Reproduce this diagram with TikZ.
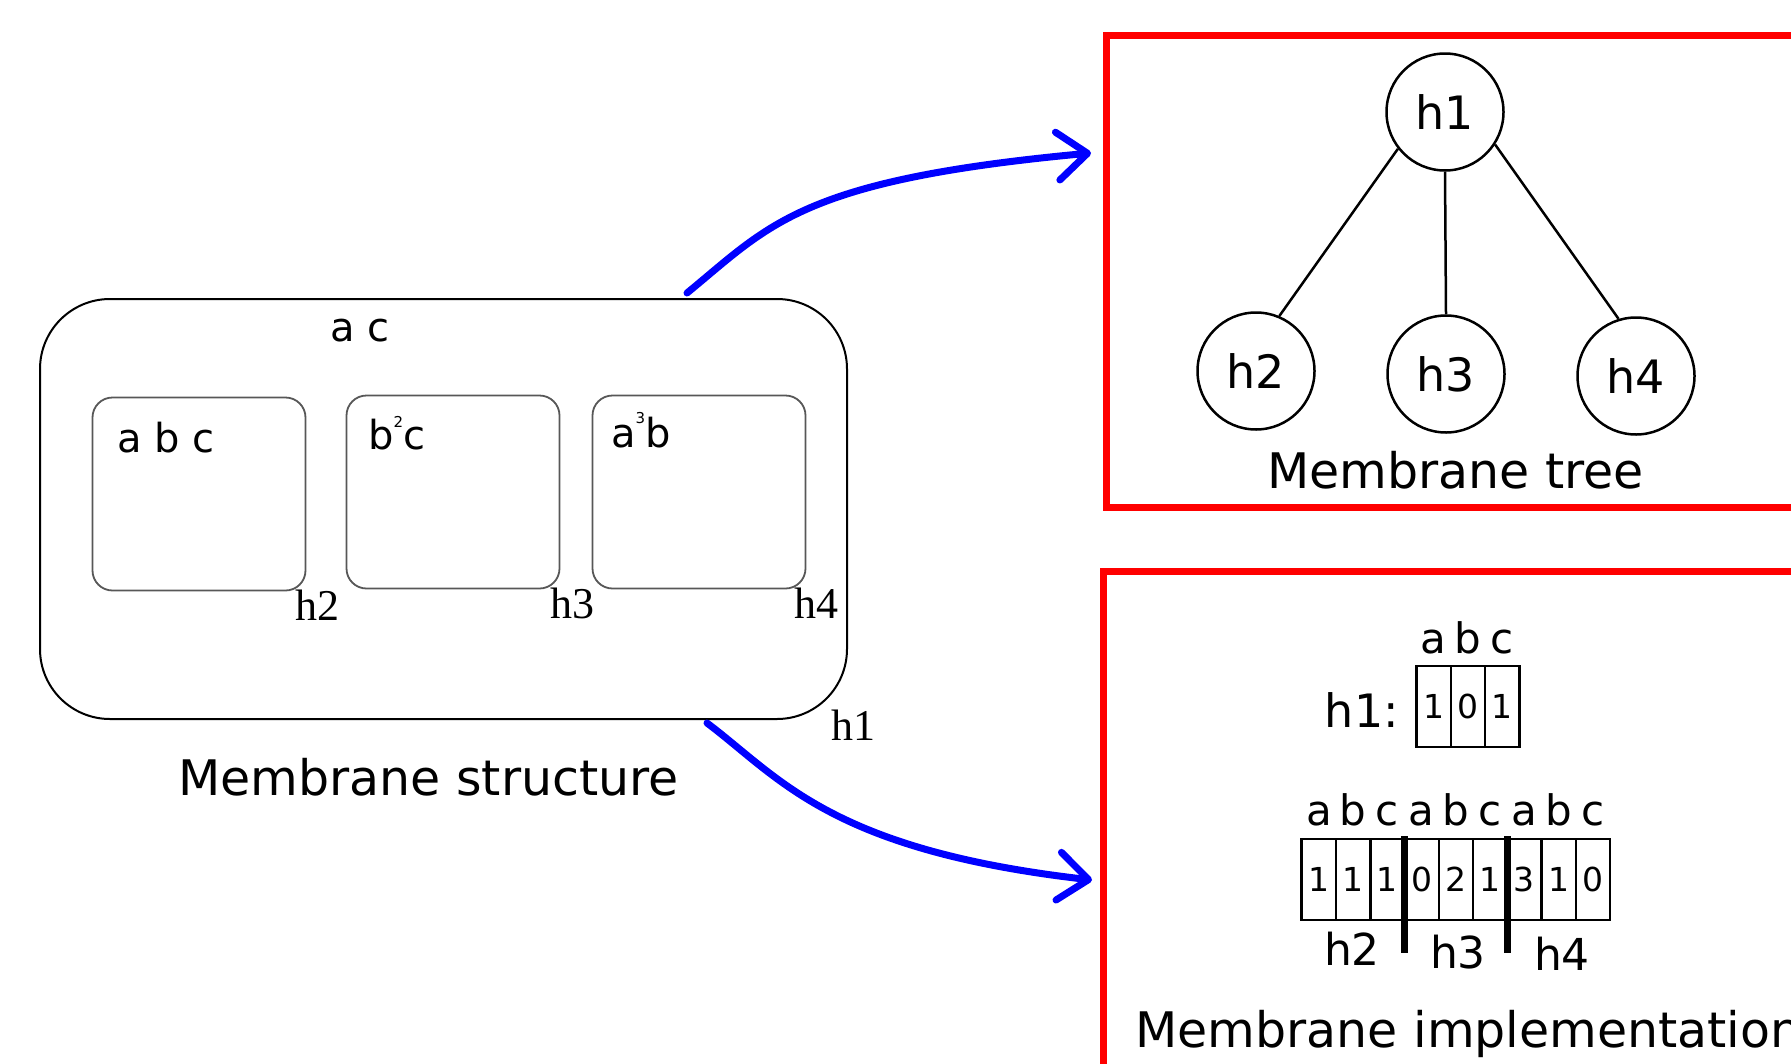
\documentclass[tikz,border=0pt]{standalone}
\usepackage{fontspec}
\setmainfont{DejaVu Sans}
\newfontfamily\tmsfont{Liberation Serif}
\usetikzlibrary{arrows.meta}
\newcommand\fsz[1]{\fontsize{#1}{#1}\selectfont}
\begin{document}
\begin{tikzpicture}[x=1pt,y=-1pt,
  outer/.style={draw=black, line width=2pt, rounded corners=70pt, minimum width=807pt, minimum height=420pt, inner sep=0},
  inner/.style={draw=black!66, line width=1.8pt, rounded corners=20pt, minimum width=213pt, minimum height=193pt, inner sep=0},
  memtxt/.style={anchor=base west, font=\fsz{40pt}, inner sep=0},
  hlab/.style={anchor=base, font=\tmsfont\fsz{44pt}, inner sep=0},
  caption/.style={anchor=base, font=\fsz{49pt}, inner sep=0},
  redbox/.style={draw=red, line width=7pt},
  tnode/.style={draw, circle, line width=2.5pt, minimum size=117pt, inner sep=0, font=\fsz{46pt}},
  tedge/.style={line width=2.5pt},
  cell/.style={draw, line width=2.5pt, minimum width=34.3pt, minimum height=81pt, inner sep=0, font=\fsz{33pt}},
  hdr/.style={anchor=base, font=\fsz{42pt}, inner sep=0},
  sepbar/.style={line width=7pt},
  flow/.style={draw=blue, line width=7pt, line cap=round, -{Straight Barb[length=30pt,width=48pt,round]}},
]
\useasboundingbox (0,0) rectangle (1791,1063);
\clip (0,0) rectangle (1791,1063);

% membrane structure
\node[outer] (m1) at (443.5,509) {};
\node[inner] (m2) at (199,494) {};
\node[inner] (m3) at (453,492) {};
\node[inner] (m4) at (699,492) {};
\node[anchor=base, font=\fsz{40pt}, inner sep=0] (o1) at (360,341) {a c};
\node[memtxt] (o2) at (117,452) {a b c};
\node[memtxt] (o3) at (368,449) {b\raisebox{22pt}{\fsz{15pt}2}c};
\node[memtxt] (o4) at (611,447) {a\raisebox{24pt}{\fsz{15pt}3}b};
\node[hlab] (l2) at (317.5,620) {h2};
\node[hlab] (l3) at (572,618) {h3};
\node[hlab] (l4) at (816.5,618) {h4};
\node[hlab] (l1) at (853,740) {h1};
\node[caption] (cap1) at (428.5,795) {Membrane structure};

% red boxes
\draw[redbox] (1106,35) rectangle (1900,507);
\draw[redbox] (1103.5,571) rectangle (1900,1200);

% tree
\node[tnode] (t1) at (1445,112) {h1};
\node[tnode] (t2) at (1256,371) {h2};
\node[tnode] (t3) at (1446,374) {h3};
\node[tnode] (t4) at (1636,376) {h4};
\draw[tedge] (t1.218) -- (t2.67);
\draw[tedge] (t1.south) -- (t3.north);
\draw[tedge] (t1.327) -- (t4.107);
\node[caption] (cap2) at (1455.5,488) {Membrane tree};

% implementation
\node[anchor=base east, font=\fsz{46pt}, inner sep=0] (hh1) at (1399,727) {h1:};
\foreach \i/\d/\c in {1/1/a,2/0/b,3/1/c}{
  \node[cell] (r\i) at ({1399.4+34.3*\i},706.5) {\d};
  \node[hdr] (rh\i) at ({1399.4+34.3*\i},653) {\c};
}
\foreach \i/\d/\c in {1/1/a,2/1/b,3/1/c,4/0/a,5/2/b,6/1/c,7/3/a,8/1/b,9/0/c}{
  \node[cell] (s\i) at ({1284.6+34.26*\i},879.5) {\d};
  \node[hdr] (sh\i) at ({1284.6+34.26*\i},825) {\c};
}
\draw[sepbar] (1404.5,836) -- (1404.5,953);
\draw[sepbar] (1507.3,836) -- (1507.3,953);
\node[anchor=base, font=\fsz{44pt}, inner sep=0] (b2) at (1352,965) {h2};
\node[anchor=base, font=\fsz{44pt}, inner sep=0] (b3) at (1458,968) {h3};
\node[anchor=base, font=\fsz{44pt}, inner sep=0] (b4) at (1562,970) {h4};
\node[anchor=base west, font=\fsz{49pt}, inner sep=0] (cap3) at (1135,1047) {Membrane implementation};

% arrows
\coordinate (a1s) at (687,293);
\coordinate (a1e) at (1091,153);
\coordinate (a2s) at (707,723);
\coordinate (a2e) at (1092,880);
\draw[flow] (a1s) .. controls (770,225) and (800,180) .. (a1e);
\draw[flow] (a2s) .. controls (780,778) and (830,850) .. (a2e);
\end{tikzpicture}
\end{document}
